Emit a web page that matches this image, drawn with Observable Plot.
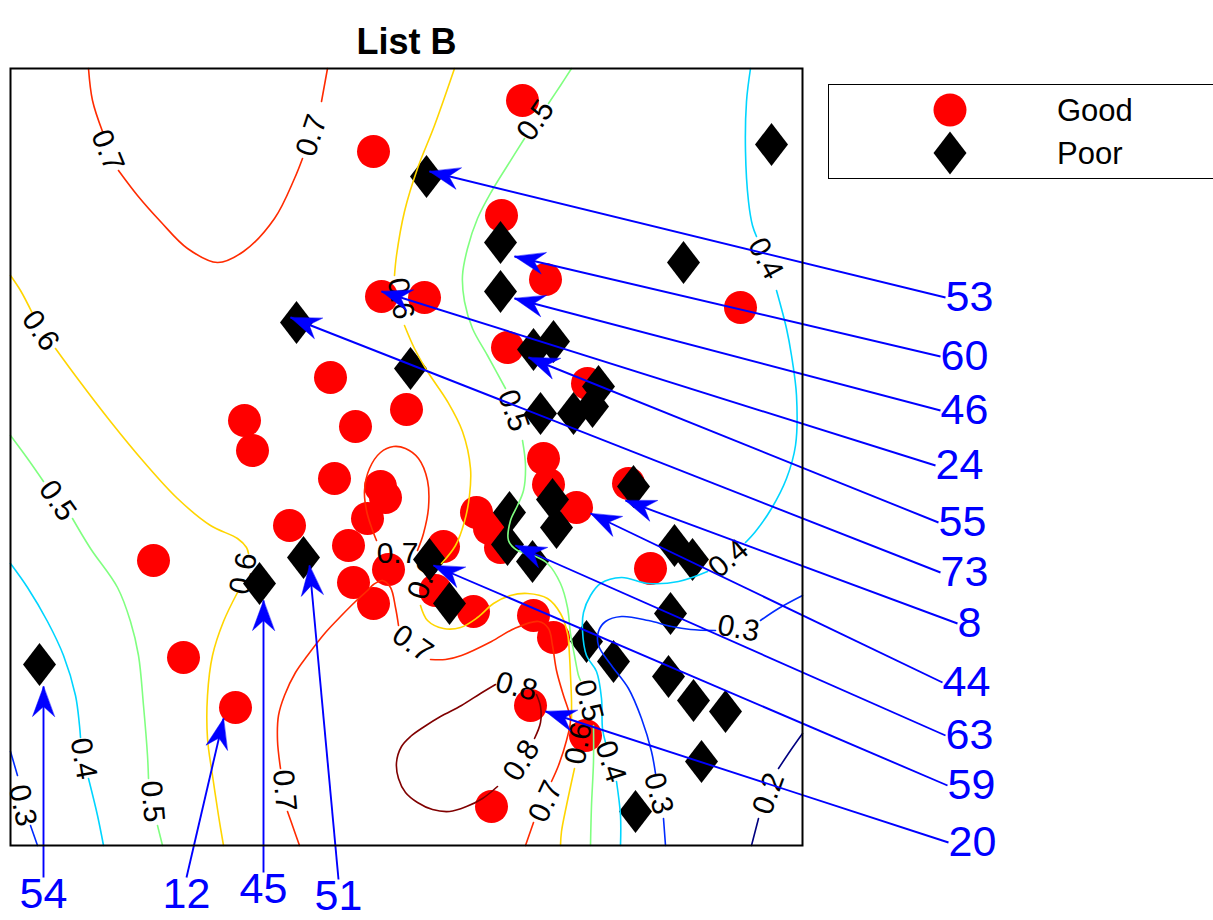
<!DOCTYPE html>
<html><head><meta charset="utf-8">
<script src="https://cdn.jsdelivr.net/npm/d3@7"></script>
<script src="https://cdn.jsdelivr.net/npm/@observablehq/plot@0.6"></script>
<style>
body{margin:0;background:#fff;}
#wrap{position:relative;width:1213px;height:920px;overflow:hidden;background:#fff;}
#legend{position:absolute;left:828px;top:84px;width:400px;height:95px;border:1.5px solid #000;background:#fff;box-sizing:border-box;}
#legend svg{position:absolute;left:0;top:0;}
</style></head><body><div id="wrap"><div id="legend"></div></div>
<script>
const FONT = "'Liberation Sans', Arial, Helvetica, sans-serif";

// ---- categories / legend
const categories = ["Good", "Poor"];
const categoryColors = ["#ff0000", "#000000"];

// ---- markers (data units)
const goodX = [51.2,36.3,49.1,53.5,37.1,41.4,73.0,49.7,32.0,57.7,23.4,39.6,34.5,24.2,53.3,32.4,53.8,37.0,37.5,61.8,56.6,46.6,35.7,27.9,47.9,49.0,14.3,33.8,43.3,37.8,64.0,34.3,36.3,42.5,46.3,52.3,54.3,17.3,22.5,52.0,57.5,48.1];
const goodY = [74.5,69.4,63.0,56.6,54.9,54.8,53.8,49.8,46.8,46.2,42.5,43.6,41.9,39.5,38.7,36.7,36.1,35.9,34.8,36.2,33.8,33.3,32.7,32.0,31.7,29.8,28.5,30.0,29.9,27.6,27.7,26.3,24.2,25.5,23.4,23.0,20.8,18.8,13.8,14.0,11.0,3.9];
const poorX = [76.1,41.6,49.0,67.3,49.0,28.6,52.3,54.3,40.0,58.8,58.2,56.3,53.0,62.3,54.2,54.6,49.9,49.7,52.2,66.4,68.2,29.3,41.9,24.9,43.9,66.0,57.6,60.3,65.8,68.3,71.5,2.9,69.1,62.5];
const poorY = [70.1,66.9,60.3,58.3,55.4,52.3,49.6,50.4,47.7,45.9,43.9,43.2,43.2,35.9,34.6,31.8,33.3,30.1,28.4,30.0,28.6,28.8,28.6,26.2,24.2,23.2,20.4,18.4,16.9,14.5,13.4,18.1,8.4,3.4];

// ---- contour levels
const levels = [0.2,0.3,0.4,0.5,0.6,0.7,0.8];
const levelColors = ["#000080","#002bff","#00d5ff","#80ff80","#ffd500","#ff2b00","#800000"];

// ---- contour paths (null = gap for a label)
const c02 = [[79.2,11.2],[78.0,9.5],[76.8,7.7],null,[74.8,2.7],[74.1,0]];
const c03a = [[0,9.4],[0.7,7.0],null,[2.0,2.0],[2.7,0]];
const c03b = [[79.2,25.0],[76.8,23.7],[75.0,22.5],null,[70.5,21.5],[68.0,21.6],[66.1,21.9],[63.8,22.5],[61.1,22.9],[59.5,22.4],[58.8,21.4],[58.8,20.0],[60.1,18.0],[61.8,15.7],[63.1,12.7],[64.1,9.4],[64.5,7.2],null,[65.3,2.7],[65.5,0]];
const c04a = [[0,28.2],[1.7,25.8],[3.7,22.4],[5.3,19.0],[6.5,15.0],[6.9,12.0],[7.0,10.8],null,[7.8,6.7],[8.7,3.0],[9.3,0]];
const c04b = [[74.0,77.7],[73.6,74.4],[73.5,69.4],[73.8,64.4],[74.2,62.0],[74.6,60.9],null,[76.6,55.5],[77.6,51.7],[78.1,49.0],[78.6,45.0],[78.5,40.0],[77.6,36.7],[76.1,33.7],[74.5,31.4],[73.5,30.3],null,[69.7,27.4],[66.8,26.4],[63.8,26.2],[61.1,26.8],[59.0,26.2],[58.0,25.0],[57.3,23.3],[57.2,21.5],[57.6,19.0],[58.6,17.4],[59.1,14.7],[59.2,11.7],[59.5,10.3],null,[60.6,6.4],[61.0,3.0],[61.0,0]];
const c05a = [[0,41.0],[1.7,38.7],[3.3,36.4],null,[6.2,32.7],[8.0,29.7],[10.7,25.8],[12.0,22.4],[12.8,19.0],[13.3,14.0],[13.7,9.0],[13.8,6.7],null,[14.7,2.0],[15.2,0]];
const c05b = [[56.1,77.7],[55.0,76.0],[53.8,74.2],null,[51.4,70.7],[49.7,68.0],[48.1,65.4],[46.7,62.7],[45.7,59.7],[45.2,57.0],[45.4,54.4],[46.2,51.7],[47.7,49.0],[49.5,45.7],null,[51.2,40.5],[51.5,38.0],[51.3,35.5],[50.7,34.0],[50.0,32.5],[49.8,30.5],[50.7,29.5],[52.3,29.0],[53.7,28.2],[55.0,26.2],[55.7,23.8],[56.0,21.2],[56.4,19.0],[56.8,17.0],[57.0,16.5],null,[58.3,12.0],[58.3,8.4],[58.1,4.0],[58.0,0]];
const c06a = [[0,57.0],[1.0,55.5],[2.2,53.2],null,[4.5,49.7],[6.7,46.7],[10.0,42.4],[13.3,38.4],[16.7,34.7],[20.0,32.0],[22.7,30.7],[23.6,29.8],[23.8,29.2],null,[22.7,25.3],[21.3,22.4],[20.2,19.0],[19.7,15.0],[19.7,10.7],[20.2,7.0],[20.8,3.0],[21.3,0]];
const c06b = [[44.4,77.7],[42.4,72.0],[40.7,67.7],[39.4,63.4],[38.6,59.0],[38.4,57.0],null,[39.4,52.0],[40.4,49.7],[41.7,47.4],[43.7,44.4],[45.2,41.4],[46.0,37.7],[45.9,35.0],[45.4,32.4],[44.5,30.0],[43.1,28.2],null,[41.0,24.0],[41.7,22.5],[43.3,21.7],[45.0,21.8],[46.7,22.8],[48.3,24.2],[50.0,25.0],[51.7,25.2],[53.7,24.7],[55.0,23.2],[55.7,21.2],[55.9,19.0],[56.0,17.0],[56.1,14.5],[56.1,12.5],null,[56.4,7.7],[55.6,4.0],[55.1,1.4],[55.0,0]];
const c07a = [[7.8,77.7],[8.2,74.5],[9.2,71.4],null,[10.8,67.5],[12.7,65.0],[15.0,62.4],[17.7,59.7],[20.7,58.3],[23.3,59.4],[26.4,62.7],[28.4,66.7],[29.2,68.7],null,[31.1,74.4],[31.7,77.7]];
const c07b = [[40.7,29.5],[41.3,31.2],[41.8,33.8],[41.7,36.5],[40.8,38.7],[39.5,39.7],[38.3,39.9],[37.0,39.3],[35.9,37.7],[35.4,35.5],[35.6,33.5],[36.1,31.8],[36.6,30.5]];
const c07c = [[28.9,0],[28.3,1.7],[27.7,3.4],null,[27.0,7.7],[26.7,10.5],[26.8,13.0],[27.4,15.0],[28.5,17.3],[29.7,19.0],[31.5,21.3],[33.1,23.0],[34.5,24.4],[35.7,25.5],[36.3,26.1],[37.2,26.5],[38.0,25.8],[38.5,23.8],[38.8,22.0],null,[42.0,18.6],[43.5,18.6],[45.1,19.0],[48.1,20.4],[50.4,21.7],[52.8,22.4],[53.8,21.7],[54.2,20.0],[54.6,17.5],[55.3,15.0],[55.8,13.5],[56.0,12.5],[55.6,10.5],[54.8,8.0],[54.1,6.4],null,[52.3,2.3],[51.5,0]];
const c08 = [[48.5,16.1],[47.0,15.2],[45.1,14.0],[43.0,12.9],[41.4,11.9],[40.0,10.9],[39.1,9.9],[38.6,8.3],[38.8,6.7],[39.5,5.3],[40.7,4.3],[42.2,3.6],[43.9,3.4],[45.6,3.9],[47.2,4.7],[48.7,5.9],null,[52.4,10.7],[53.0,12.3],[53.0,13.9],[52.6,15.1]];

const contourPaths = [
  {level:0.2, pts:c02}, {level:0.3, pts:c03a}, {level:0.3, pts:c03b},
  {level:0.4, pts:c04a}, {level:0.4, pts:c04b}, {level:0.5, pts:c05a}, {level:0.5, pts:c05b},
  {level:0.6, pts:c06a}, {level:0.6, pts:c06b}, {level:0.7, pts:c07a}, {level:0.7, pts:c07b},
  {level:0.7, pts:c07c}, {level:0.8, pts:c08}
];

// ---- contour labels
const labelLevel = [0.7,0.7,0.7,0.7,0.7,0.7, 0.8,0.8, 0.6,0.6,0.6,0.6,0.6, 0.5,0.5,0.5,0.5,0.5, 0.4,0.4,0.4,0.4, 0.3,0.3,0.3, 0.2];
const labelX = [9.7,30.1,38.7,40.2,27.4,53.5, 50.6,51.1, 3.0,23.3,39.0,41.3,56.8, 4.7,14.2,52.5,50.3,57.8, 7.3,75.5,71.8,60.0, 1.2,72.8,64.8, 75.8];
const labelY = [69.5,71.0,29.2,20.2,5.5,4.4, 15.9,8.5, 51.5,27.2,54.7,26.7,10.2, 34.5,4.4,72.5,43.5,14.5, 8.7,58.7,28.7,8.4, 4.0,21.7,5.2, 5.2];
const labelAngle = [68,-72,0,35,85,-65, 15,-58, 55,-78,80,-70,-80, 55,85,-55,71,75, 80,62,-40,72, 78,10,75, -70];

// ---- annotation arrows
const arrowText = ["53","60","46","24","55","73","8","44","63","59","20","54","12","45","51"];
const arrowSide = ["right","right","right","right","right","right","right","right","right","right","right","bottom","bottom","bottom","bottom"];
const arrowTailX = [93.5,93.0,93.0,92.5,92.8,93.0,94.7,93.2,93.5,93.7,93.8, 3.3,17.6,25.3,32.8];
const arrowTailY = [54.8,48.9,43.5,38.0,32.3,27.3,22.2,16.3,11.0,6.0,0.3, -3.2,-3.2,-2.7,-3.4];
const arrowTipX = [41.9,50.4,50.4,37.1,51.8,28.0,61.5,58.0,50.5,42.3,53.5, 3.3,21.3,25.3,29.9];
const arrowTipY = [67.4,58.9,54.7,55.4,48.8,52.8,34.5,33.2,30.0,28.0,13.4, 15.9,12.7,24.5,28.0];

// ---- build tables
const contourRows = [];
contourPaths.forEach((c, k) => c.pts.forEach(p => contourRows.push({id: k, level: c.level, x: p ? p[0] : NaN, y: p ? p[1] : NaN})));
const labelRows = labelLevel.map((l, i) => ({level: l, x: labelX[i], y: labelY[i], a: labelAngle[i], t: l.toFixed(1)}));
const goodRows = goodX.map((x, i) => ({x, y: goodY[i]}));
const poorRows = poorX.map((x, i) => ({x, y: poorY[i]}));
const arrowRows = arrowText.map((t, i) => ({t, side: arrowSide[i], sx: arrowTailX[i], sy: arrowTailY[i], tx: arrowTipX[i], ty: arrowTipY[i]}));
const headRows = [];
arrowRows.forEach((a, i) => {
  const dx = a.tx - a.sx, dy = a.ty - a.sy, n = Math.hypot(dx, dy);
  const ux = dx / n, uy = dy / n, px = -uy, py = ux;
  const L = 3.0, W = 1.1, N = 2.0;
  headRows.push({id: i, x: a.tx, y: a.ty});
  headRows.push({id: i, x: a.tx - L*ux + W*px, y: a.ty - L*uy + W*py});
  headRows.push({id: i, x: a.tx - N*ux, y: a.ty - N*uy});
  headRows.push({id: i, x: a.tx - L*ux - W*px, y: a.ty - L*uy - W*py});
});

const diamond = {draw(ctx, size) {
  const r = Math.sqrt(size / Math.PI);
  ctx.moveTo(0, -r * 1.3); ctx.lineTo(r, 0); ctx.lineTo(0, r * 1.3); ctx.lineTo(-r, 0); ctx.closePath();
}};

const chart = Plot.plot({
  width: 1213, height: 920,
  marginLeft: 10, marginRight: 411, marginTop: 68, marginBottom: 75,
  style: {fontFamily: FONT, background: "white", color: "black"},
  x: {domain: [0, 79.2], axis: null},
  y: {domain: [0, 77.7], axis: null},
  color: {type: "ordinal", domain: levels, range: levelColors},
  marks: [
    Plot.dot(goodRows, {x: "x", y: "y", r: 16.5, fill: categoryColors[0], stroke: "none"}),
    Plot.dot(poorRows, {x: "x", y: "y", r: 16.5, symbol: diamond, fill: categoryColors[1], stroke: "none"}),
    Plot.line(contourRows, {x: "x", y: "y", z: "id", stroke: "level", strokeWidth: 1.6, curve: "catmull-rom"}),
    Plot.text(labelRows, {x: "x", y: "y", text: "t", rotate: "a", fontSize: 30, fill: "black", fontFamily: FONT}),
    Plot.link(arrowRows, {x1: "sx", y1: "sy", x2: "tx", y2: "ty", stroke: "#0000ff", strokeWidth: 1.9}),
    Plot.line(headRows, {x: "x", y: "y", z: "id", fill: "#0000ff", stroke: "#0000ff", strokeWidth: 0.5, curve: "linear-closed"}),
    Plot.text(arrowRows.filter(d => d.side === "right"), {x: "sx", y: "sy", text: "t", textAnchor: "start", lineAnchor: "middle", fontSize: 43, fill: "#0000ff", fontFamily: FONT}),
    Plot.text(arrowRows.filter(d => d.side === "bottom"), {x: "sx", y: "sy", text: "t", textAnchor: "middle", lineAnchor: "top", fontSize: 43, fill: "#0000ff", fontFamily: FONT}),
    Plot.text(["List B"], {frameAnchor: "top", dy: -40, fontSize: 36, fontWeight: "bold", fill: "black", fontFamily: FONT}),
    Plot.frame({stroke: "black", strokeWidth: 2})
  ]
});
const wrap = document.getElementById("wrap");
wrap.insertBefore(chart, wrap.firstChild);

// ---- legend
const lg = d3.select("#legend").append("svg").attr("width", 400).attr("height", 95)
  .style("font-family", FONT);
const rows = lg.selectAll("g").data(categories).join("g")
  .attr("transform", (d, i) => `translate(0,${25 + i * 43})`);
rows.filter((d, i) => i === 0).append("circle").attr("cx", 121).attr("cy", 0).attr("r", 16.5).attr("fill", categoryColors[0]);
rows.filter((d, i) => i === 1).append("path").attr("transform", "translate(121,0)")
  .attr("d", () => { const p = d3.path(); diamond.draw(p, Math.PI * 16.5 * 16.5); return p.toString(); })
  .attr("fill", categoryColors[1]);
rows.append("text").attr("x", 228).attr("y", 0).attr("dy", "0.35em").attr("font-size", 31).text(d => d);
</script></body></html>
